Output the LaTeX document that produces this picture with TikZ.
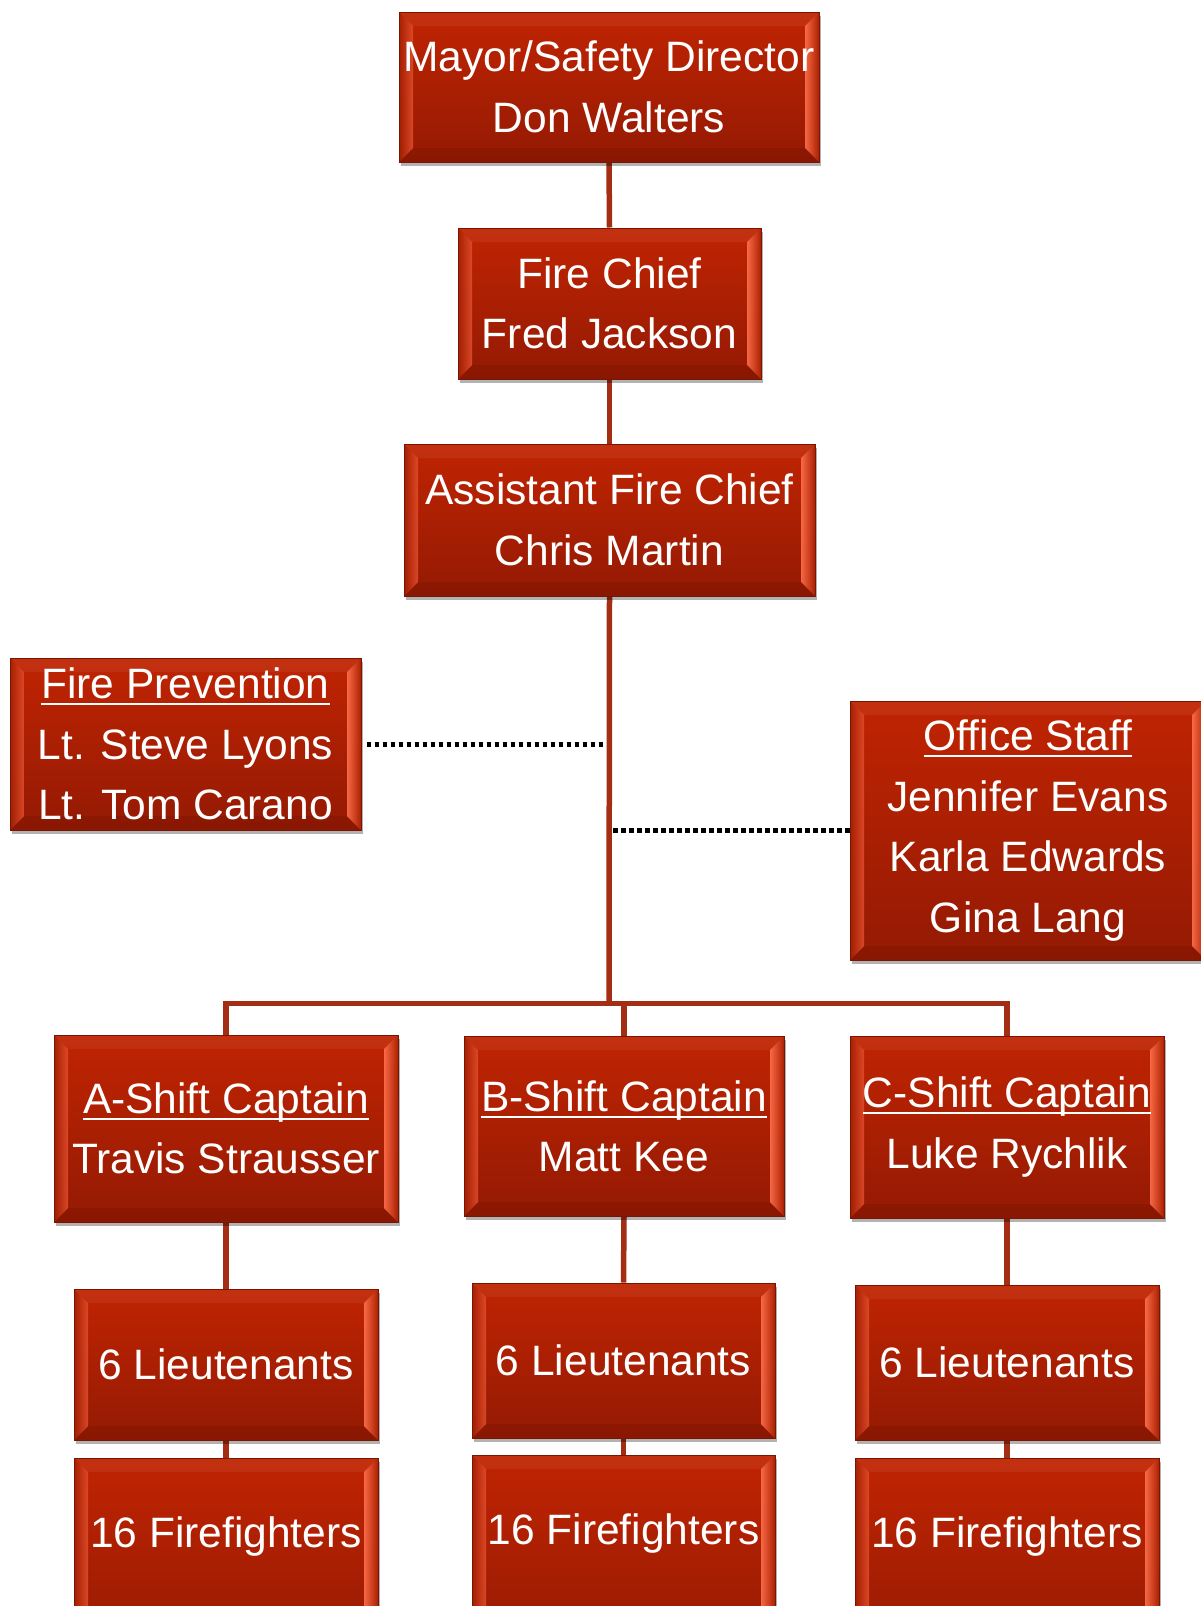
\documentclass[tikz,border=0pt]{standalone}
\usepackage{fontspec}
\setmainfont{Liberation Sans}
\usetikzlibrary{shadows,backgrounds,calc}
\definecolor{boxtop}{RGB}{192,36,2}
\definecolor{boxbot}{RGB}{148,26,3}
\definecolor{boxedge}{RGB}{120,22,4}
\definecolor{bevlight}{RGB}{255,112,76}
\definecolor{bevmid}{RGB}{228,80,46}
\definecolor{bevdark}{RGB}{120,20,2}
\definecolor{conncol}{RGB}{163,46,20}
\newcommand\boxfont{\fontsize{42.5}{60.4}\selectfont}
\newlength\bvw \setlength\bvw{14pt}
\newsavebox\ulbox
\newcommand\uln[1]{\sbox\ulbox{#1}\rlap{\rule[-6.5pt]{\wd\ulbox}{2pt}}\usebox\ulbox}
\tikzset{
  bevel/.style={path picture={
    \coordinate (bnw) at (path picture bounding box.north west);
    \coordinate (bse) at (path picture bounding box.south east);
    \coordinate (bsw) at (bnw |- bse);
    \coordinate (bne) at (bse |- bnw);
    \fill[white, opacity=0.06] (bnw) -- (bne) -- ([xshift=-\bvw,yshift=-\bvw]bne) -- ([xshift=\bvw,yshift=-\bvw]bnw) -- cycle;
    \fill[bevdark, opacity=0.35] (bsw) -- (bse) -- ([xshift=-\bvw,yshift=\bvw]bse) -- ([xshift=\bvw,yshift=\bvw]bsw) -- cycle;
    \shade[left color=boxtop!85!black, right color=bevmid, opacity=0.85] (bnw) -- ([xshift=\bvw,yshift=-\bvw]bnw) -- ([xshift=\bvw,yshift=\bvw]bsw) -- (bsw) -- cycle;
    \shade[left color=bevlight, right color=boxtop!90!black, opacity=0.9] (bne) -- ([xshift=-\bvw,yshift=-\bvw]bne) -- ([xshift=-\bvw,yshift=\bvw]bse) -- (bse) -- cycle;
  }},
  orgbox/.style={rectangle, draw=boxedge, line width=1pt, top color=boxtop, bottom color=boxbot,
    text=white, font=\boxfont, align=center, inner sep=0pt, bevel,
    drop shadow={shadow xshift=2pt, shadow yshift=-4pt, opacity=0.3, fill=black}},
  conn/.style={draw=conncol, line width=5.5pt},
  dotline/.style={draw=black, line width=5pt, dash pattern=on 4.5pt off 3.5pt}
}
\begin{document}
\begin{tikzpicture}[x=1pt,y=-1pt]
\useasboundingbox (0,0) rectangle (1201,1606);
\node[orgbox, minimum width=420pt, minimum height=150pt] (mayor) at (609,87) {Mayor/Safety Director\\Don Walters};
\node[orgbox, minimum width=303pt, minimum height=151pt] (chief) at (609.5,303.5) {Fire Chief\\Fred Jackson};
\node[orgbox, minimum width=411pt, minimum height=152pt] (asst) at (609.5,520) {Assistant Fire Chief\\Chris Martin};
\node[orgbox, minimum width=351pt, minimum height=172pt] (prev) at (185.5,744) {\uln{Fire Prevention}\\Lt. Steve Lyons\\Lt. Tom Carano};
\node[orgbox, minimum width=356pt, minimum height=259pt] (office) at (1028,830.5) {\uln{Office Staff}\\Jennifer Evans\\Karla Edwards\\Gina Lang};
\node[orgbox, minimum width=344pt, minimum height=187pt] (ashift) at (226,1128.5) {\uln{A-Shift Captain}\\Travis Strausser};
\node[orgbox, minimum width=320pt, minimum height=180pt] (bshift) at (624,1126) {\uln{B-Shift Captain}\\Matt Kee};
\node[orgbox, minimum width=314pt, minimum height=182pt] (cshift) at (1007,1127) {\uln{C-Shift Captain}\\Luke Rychlik};
\node[orgbox, minimum width=304pt, minimum height=151pt] (lta) at (226,1364.5) {6 Lieutenants};
\node[orgbox, minimum width=303pt, minimum height=155pt] (ltb) at (623.5,1360.5) {6 Lieutenants};
\node[orgbox, minimum width=304pt, minimum height=155pt] (ltc) at (1007,1362.5) {6 Lieutenants};
\node[orgbox, minimum width=304pt, minimum height=202pt, text height=30pt, text depth=54pt] (ffa) at (226,1559) {16 Firefighters};
\node[orgbox, minimum width=303pt, minimum height=202pt, text height=30pt, text depth=54pt] (ffb) at (623.5,1556) {16 Firefighters};
\node[orgbox, minimum width=304pt, minimum height=202pt, text height=30pt, text depth=54pt] (ffc) at (1007,1559) {16 Firefighters};
\coordinate (bus) at (609,1003.5);
\begin{scope}[on background layer]
\draw[conn] (mayor.south) -- (chief.north);
\draw[conn] (chief.south) -- (asst.north);
\draw[conn] (asst.south) -- (bus);
\draw[conn] (ashift.north) |- (bus);
\draw[conn] (cshift.north) |- (bus);
\draw[conn] (bshift.north) -- (bshift.north |- bus);
\draw[conn] (ashift.south) -- (lta.north);
\draw[conn] (bshift.south) -- (ltb.north);
\draw[conn] (cshift.south) -- (ltc.north);
\draw[conn] (lta.south) -- (ffa.north);
\draw[conn] (ltb.south) -- (ffb.north);
\draw[conn] (ltc.south) -- (ffc.north);
\draw[dotline] ([xshift=5pt]prev.east) -- ([xshift=-3pt]prev.east -| bus);
\draw[dotline] ([xshift=4pt]office.west -| bus) -- (office.west);
\end{scope}
\end{tikzpicture}
\end{document}
